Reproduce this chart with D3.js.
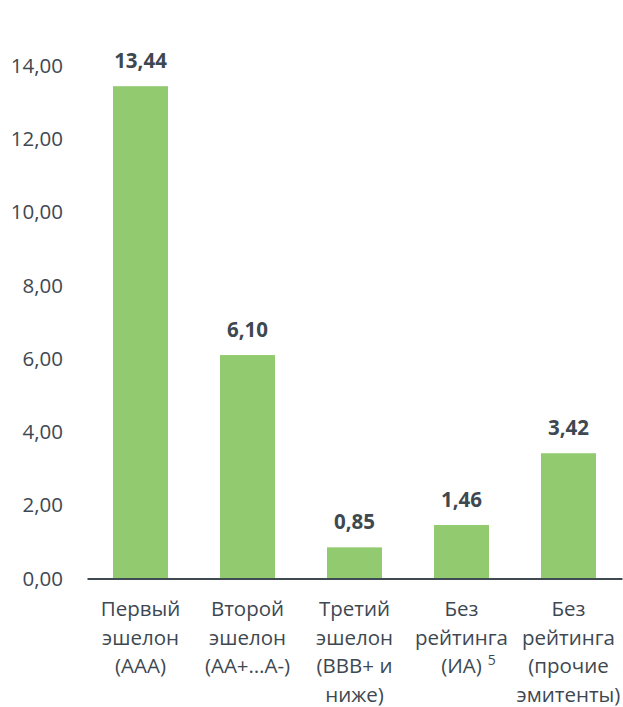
<!DOCTYPE html>
<html>
<head>
<meta charset="utf-8">
<script src="https://cdn.jsdelivr.net/npm/d3@7"></script>
<style>
  html, body { margin: 0; padding: 0; background: #fff; }
  svg { display: block; font-family: "Open Sans", sans-serif; }
</style>
</head>
<body>
<svg id="chart" width="623" height="707"></svg>
<script>
// Category labels, split into lines; the superscript note is kept separately
const categories = ["Первый эшелон (AAA)", "Второй эшелон (AA+…A-)", "Третий эшелон (BBB+ и ниже)", "Без рейтинга (ИА)", "Без рейтинга (прочие эмитенты)"];
const categoryLines = [
  ["Первый", "эшелон", "(AAA)"],
  ["Второй", "эшелон", "(AA+…A-)"],
  ["Третий", "эшелон", "(BBB+ и", "ниже)"],
  ["Без", "рейтинга", "(ИА)"],
  ["Без", "рейтинга", "(прочие", "эмитенты)"]
];
const footnotes = ["", "", "", "5", ""];
const values = [13.44, 6.10, 0.85, 1.46, 3.42];
const yTicks = [0, 2, 4, 6, 8, 10, 12, 14];

const fmt = v => v.toFixed(2).replace(".", ",");
const textColor = "#3e4851";
const barColor = "#92cb6f";
const fontSize = 20.5;

const svg = d3.select("#chart");

const x = d3.scaleBand()
  .domain(categories)
  .range([87, 622])
  .paddingInner(0.486)
  .paddingOuter(0.243);

const y = d3.scaleLinear()
  .domain([0, 14])
  .range([578.5, 65.7]);

// Bars
svg.append("g").selectAll("rect")
  .data(values)
  .join("rect")
  .attr("x", (d, i) => x(categories[i]))
  .attr("y", d => y(d))
  .attr("width", x.bandwidth())
  .attr("height", d => y(0) - y(d))
  .attr("fill", barColor);

// Value labels
svg.append("g").selectAll("text")
  .data(values)
  .join("text")
  .attr("x", (d, i) => x(categories[i]) + x.bandwidth() / 2)
  .attr("y", d => y(d) - 18)
  .attr("text-anchor", "middle")
  .attr("font-size", fontSize)
  .attr("font-weight", "bold")
  .attr("fill", textColor)
  .text(d => fmt(d));

// Y axis: labels only
const yAxis = d3.axisLeft(y)
  .tickValues(yTicks)
  .tickFormat(fmt)
  .tickSize(0)
  .tickPadding(24);
const gy = svg.append("g")
  .attr("transform", "translate(87,0)")
  .call(yAxis);
gy.select(".domain").remove();
gy.selectAll("text")
  .attr("font-family", "'Open Sans', sans-serif")
  .attr("font-size", fontSize)
  .attr("fill", textColor);

// X axis baseline and multi-line category labels
const xAxis = d3.axisBottom(x).tickSize(0).tickFormat("");
const gx = svg.append("g")
  .attr("transform", `translate(0,${y(0)})`)
  .call(xAxis);
gx.select(".domain")
  .attr("stroke", "#404a53")
  .attr("stroke-width", 2);

const lab = svg.append("g").selectAll("text")
  .data(categories)
  .join("text")
  .attr("x", d => x(d) + x.bandwidth() / 2)
  .attr("y", 616)
  .attr("text-anchor", "middle")
  .attr("font-size", fontSize)
  .attr("fill", textColor);

lab.each(function(d, i) {
  const t = d3.select(this);
  categoryLines[i].forEach((line, j) => {
    const isLast = j === categoryLines[i].length - 1;
    t.append("tspan")
      .attr("x", x(d) + x.bandwidth() / 2 + (isLast && footnotes[i] ? 7 : 0))
      .attr("dy", j === 0 ? 0 : 28.5)
      .text(line);
    if (isLast && footnotes[i]) {
      t.append("tspan")
        .attr("dx", 6)
        .attr("dy", -8)
        .attr("font-size", 14)
        .text(footnotes[i]);
    }
  });
});
</script>
</body>
</html>
